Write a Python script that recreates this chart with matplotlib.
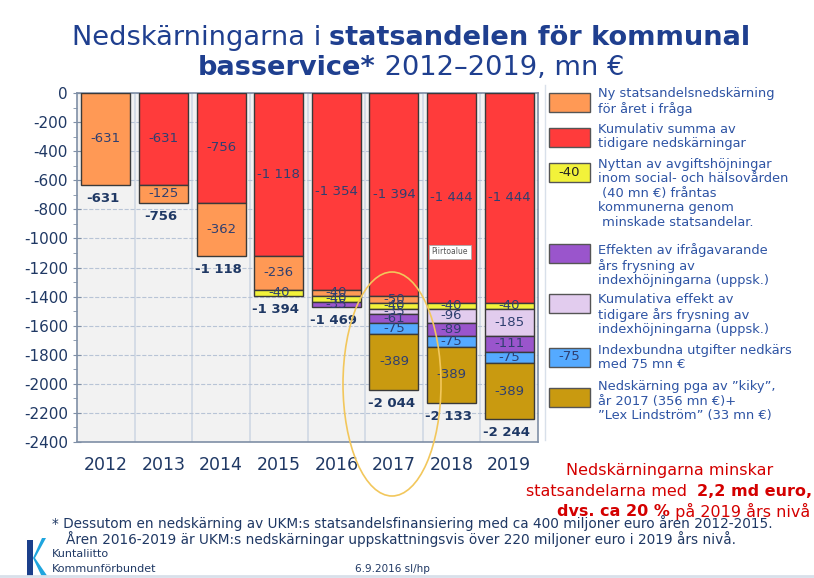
import numpy as np
import matplotlib.pyplot as plt
from matplotlib.patches import Rectangle, Ellipse, Polygon

years = ['2012', '2013', '2014', '2015', '2016', '2017', '2018', '2019']
red = [0, -631, -756, -1118, -1354, -1394, -1444, -1444]
orange = [-631, -125, -362, -236, -40, -50, 0, 0]
yellow = [0, 0, 0, -40, -40, -40, -40, -40]
lightpurple = [0, 0, 0, 0, 0, -35, -96, -185]
purple = [0, 0, 0, 0, -35, -61, -89, -111]
blue = [0, 0, 0, 0, 0, -75, -75, -75]
gold = [0, 0, 0, 0, 0, -389, -389, -389]

series = [red, orange, yellow, lightpurple, purple, blue, gold]
colors = ['#FF3B3B', '#FF9955', '#F2F23A', '#E2CCEE', '#9A55CC', '#55AAFF', '#C99A10']

# legend entries, top to bottom (series index, text, text on the patch)
legend_series = [1, 0, 2, 4, 3, 5, 6]
legend_texts = [
    'Ny statsandelsnedskärning\nför året i fråga',
    'Kumulativ summa av\ntidigare nedskärningar',
    'Nyttan av avgiftshöjningar\ninom social- och hälsovården\n (40 mn €) fråntas\nkommunerna genom\n minskade statsandelar.',
    'Effekten av ifrågavarande\nårs frysning av\nindexhöjningarna (uppsk.)',
    'Kumulativa effekt av\ntidigare års frysning av\nindexhöjningarna (uppsk.)',
    'Indexbundna utgifter nedkärs\nmed 75 mn €',
    'Nedskärning pga av ”kiky”,\når 2017 (356 mn €)+\n”Lex Lindström” (33 mn €)',
]
legend_patch_text = ['', '', '-40', '', '', '-75', '']

W, H = 814, 578
navy = '#1F3864'
segtxt = '#2F3F70'
legblue = '#2E54A4'


def fx(px):
    return px / W


def fy(py):
    return 1 - py / H


def fmt(v):
    s = f'{abs(v):,}'.replace(',', ' ')
    return '-' + s


fig = plt.figure(figsize=(8.14, 5.78), dpi=100)
ax = fig.add_axes([fx(77), fy(442), fx(538) - fx(77), fy(93) - fy(442)])
ax.set_facecolor('#F2F2F2')

x = np.arange(len(years))
bottom = np.zeros(len(years))
for vals, col in zip(series, colors):
    vals = np.array(vals, dtype=float)
    mask = vals != 0
    ax.bar(x[mask], vals[mask], bottom=bottom[mask], width=0.85, color=col,
           edgecolor='#3A3A3A', linewidth=1, zorder=3)
    for i in np.where(mask)[0]:
        ax.text(x[i], bottom[i] + vals[i] / 2, fmt(int(vals[i])), ha='center',
                va='center', fontsize=9.5, color=segtxt, zorder=4)
    bottom = bottom + vals

for i, tot in enumerate(bottom):
    ax.annotate(fmt(int(tot)), (x[i], tot), xytext=(-2, -5), textcoords='offset points',
                ha='center', va='top', fontsize=9.5, fontweight='bold', color=navy)

ax.set_xlim(-0.5, len(years) - 0.5)
ax.set_ylim(-2400, 0)
ax.set_yticks(np.arange(-2400, 1, 200))
ax.set_yticks(np.arange(-2300, 0, 200), minor=True)
ax.set_yticklabels([str(v) for v in np.arange(-2400, 1, 200)])
ax.tick_params(axis='y', colors='#7F8FA6', labelcolor=navy, labelsize=11,
               length=6, direction='inout')
ax.tick_params(axis='y', which='minor', colors='#7F8FA6', length=3)
ax.set_xticks(x)
ax.set_xticklabels(years)
ax.tick_params(axis='x', length=0, labelsize=12.5, labelcolor=navy, pad=10)
ax.grid(axis='y', which='major', color='#B8C4D6', linestyle='--', linewidth=0.8, zorder=0)
ax.vlines(x[:-1] + 0.5, -2400, 0, color='#D0D8E4', linewidth=1.2, zorder=1)
for sp in ax.spines.values():
    sp.set_color('#7F8FA6')
    sp.set_linewidth(1.2)

renderer = fig.canvas.get_renderer()


def rich_line(y, parts, size, color, xc):
    ts = [fig.text(0, fy(y), s, fontsize=size, fontweight=w, color=color,
                   va='center', ha='left') for s, w in parts]
    widths = [t.get_window_extent(renderer).width for t in ts]
    start = xc - sum(widths) / 2
    for t, w in zip(ts, widths):
        t.set_x(fx(start))
        start += w


title_c = '#1F3F8F'
rich_line(38, [('Nedskärningarna i ', 'normal'), ('statsandelen för kommunal', 'bold')],
          19.6, title_c, 411)
rich_line(68, [('basservice*', 'bold'), (' 2012–2019, mn €', 'normal')],
          19.6, title_c, 411)

# legend
leg_y = [102, 137, 172, 253, 303, 357, 397]
leg_line0 = [95, 131, 166, 251, 301, 352, 388]
for k, idx in enumerate(legend_series):
    cy = leg_y[k]
    fig.add_artist(Rectangle((fx(549), fy(cy + 9.5)), fx(41), 19 / H,
                             facecolor=colors[idx], edgecolor='#555555',
                             linewidth=1, transform=fig.transFigure))
    if legend_patch_text[k]:
        fig.text(fx(569.5), fy(cy), legend_patch_text[k], ha='center', va='center',
                 fontsize=9.5, color='#222222' if idx == 2 else segtxt)
    fig.text(fx(598), fy(leg_line0[k] - 8), legend_texts[k], ha='left', va='top',
             fontsize=9.4, color=legblue, linespacing=1.15)

# red note
red_c = '#D40000'
fig.text(fx(670), fy(471), 'Nedskärningarna minskar', ha='center', va='center',
         fontsize=11.5, color=red_c)
rich_line(491, [('statsandelarna med  ', 'normal'), ('2,2 md euro,', 'bold')],
          11.5, red_c, 669)
rich_line(511, [('dvs. ca 20 %', 'bold'), (' på 2019 års nivå', 'normal')],
          11.5, red_c, 684)

# footnote
fig.text(fx(52), fy(523), '* Dessutom en nedskärning av UKM:s statsandelsfinansiering med ca 400 miljoner euro åren 2012-2015.',
         ha='left', va='center', fontsize=9.8, color=navy)
fig.text(fx(66), fy(539), 'Åren 2016-2019 är UKM:s nedskärningar uppskattningsvis över 220 miljoner euro i 2019 års nivå.',
         ha='left', va='center', fontsize=9.8, color=navy)
fig.text(fx(52), fy(554), 'Kuntaliitto', ha='left', va='center', fontsize=8, color=navy)
fig.text(fx(52), fy(569), 'Kommunförbundet', ha='left', va='center', fontsize=8, color=navy)
fig.text(fx(392), fy(569), '6.9.2016 sl/hp', ha='center', va='center', fontsize=7.5, color=navy)

# logo
fig.add_artist(Polygon([(fx(27), fy(540)), (fx(33), fy(540)), (fx(33), fy(576)), (fx(27), fy(576))],
                       closed=True, facecolor='#1B3F8B', transform=fig.transFigure))
fig.add_artist(Polygon([(fx(46), fy(538)), (fx(35), fy(558)), (fx(48), fy(577)), (fx(42), fy(577)),
                        (fx(33), fy(558)), (fx(42), fy(538))],
                       closed=True, facecolor='#1FA5DE', transform=fig.transFigure))

# highlight ellipse and tooltip
fig.add_artist(Ellipse((fx(392), fy(384)), 98 / W, 224 / H, fill=False,
                       edgecolor='#F2C75C', linewidth=1.2, transform=fig.transFigure))
fig.text(fx(450), fy(252), 'Piirtoalue', ha='center', va='center', fontsize=5.5, color='#555555',
         bbox=dict(boxstyle='square,pad=0.3', facecolor='white', edgecolor='#AAAAAA', linewidth=0.6))

# frame lines
fig.add_artist(plt.Line2D([fx(545), fx(545)], [fy(85), fy(440)], color='#D8E0EA', linewidth=1,
                          transform=fig.transFigure))
fig.add_artist(plt.Line2D([0, 1], [fy(576), fy(576)], color='#D8E0EA', linewidth=2,
                          transform=fig.transFigure))

fig.savefig('out.png', dpi=100)
